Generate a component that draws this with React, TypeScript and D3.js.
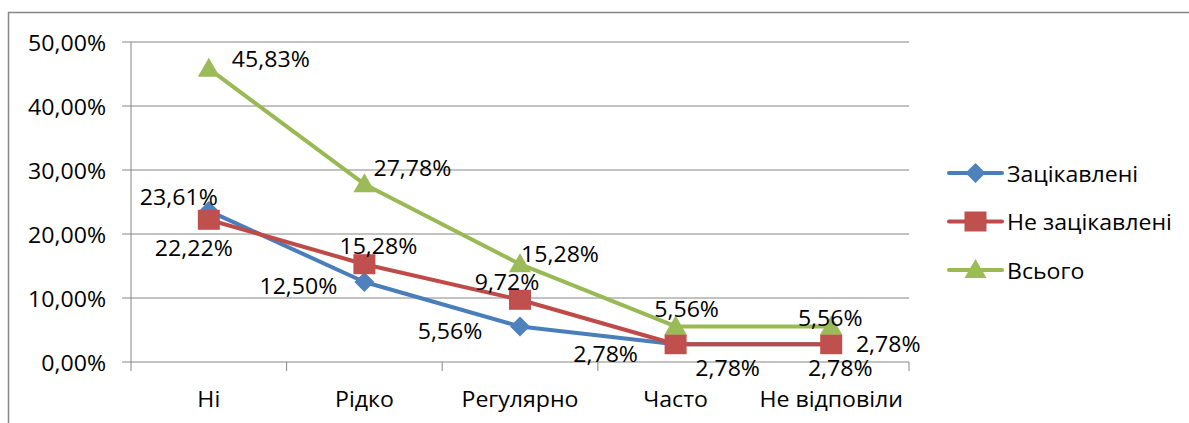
import React from "react";
import * as d3 from "d3";

const categories = ["Ні", "Рідко", "Регулярно", "Часто", "Не відповіли"];
const seriesNames = ["Зацікавлені", "Не зацікавлені", "Всього"];
const interested = [23.61, 12.5, 5.56, 2.78, 2.78];
const notInterested = [22.22, 15.28, 9.72, 2.78, 2.78];
const total = [45.83, 27.78, 15.28, 5.56, 5.56];
const yTicks = [0, 10, 20, 30, 40, 50];

// label offsets (dx, dy) relative to the point
const labelOffsets = [
  [[-30, -14], [-66, 3], [-70, 4], [-70, 9], [57, -1]],
  [[-15, 28], [14, -19], [-13, -18], [52, 23], [9, 23]],
  [[62, -10], [48, -17], [40, -11], [11, -18], [-1, -9]],
];

const lineColors = ["#4A7EBB", "#BE4B48", "#98B954"];
const markerColors = ["#4F81BD", "#C0504D", "#9BBB59"];
const FONT = "'Open Sans', 'Noto Sans', sans-serif";
const SX = 1.1;

const fmt = (v: number) => v.toFixed(2).replace(".", ",") + "%";

function Marker({ kind, x, y, color }: { kind: number; x: number; y: number; color: string }) {
  if (kind === 0) {
    const r = 10;
    return <path d={`M${x},${y - r}L${x + r},${y}L${x},${y + r}L${x - r},${y}Z`} fill={color} />;
  }
  if (kind === 1) {
    return <rect x={x - 11} y={y - 10} width={22} height={20} fill={color} />;
  }
  return <path d={`M${x},${y - 11}L${x + 11},${y + 8}L${x - 11},${y + 8}Z`} fill={color} />;
}

function T({ x, y, anchor, children, size = 21 }: any) {
  return (
    <text
      transform={`translate(${x},${y}) scale(${SX},1)`}
      textAnchor={anchor}
      dominantBaseline="central"
      fontFamily={FONT}
      fontSize={size}
      fill="#000"
    >
      {children}
    </text>
  );
}

export default function App() {
  const W = 1189, H = 423;
  const left = 131, right = 909, top = 42, bottom = 362;
  const x = d3.scaleBand<string>().domain(categories).range([left, right]);
  const y = d3.scaleLinear().domain([0, 50]).range([bottom, top]);
  const cx = (c: string) => (x(c) as number) + x.bandwidth() / 2;
  const series = [interested, notInterested, total];
  const line = d3
    .line<number>()
    .x((_, i) => cx(categories[i]))
    .y((d) => y(d));

  return (
    <svg width={W} height={H} style={{ position: "absolute", left: 0, top: 0, background: "#fff" }}>
      <rect x={8.5} y={12.5} width={1300} height={500} fill="#fff" stroke="#868686" strokeWidth={1.5} />
      {yTicks.map((t) => (
        <g key={t}>
          <line x1={left - 9} x2={right} y1={y(t)} y2={y(t)} stroke="#868686" strokeWidth={1} />
          <T x={106} y={y(t)} anchor="end">{fmt(t)}</T>
        </g>
      ))}
      <line x1={left} x2={left} y1={top} y2={bottom} stroke="#868686" strokeWidth={1} />
      {categories.map((c) => (
        <line key={c} x1={x(c) as number} x2={x(c) as number} y1={bottom} y2={bottom + 9} stroke="#868686" />
      ))}
      <line x1={right} x2={right} y1={bottom} y2={bottom + 9} stroke="#868686" />
      {categories.map((c) => (
        <T key={c} x={cx(c)} y={398} anchor="middle">{c}</T>
      ))}
      {series.map((s, si) => (
        <g key={si}>
          <path d={line(s) || ""} fill="none" stroke={lineColors[si]} strokeWidth={4} strokeLinejoin="round" strokeLinecap="round" />
        </g>
      ))}
      {series.map((s, si) => (
        <g key={"m" + si}>
          {s.map((v, i) => (
            <Marker key={i} kind={si} x={cx(categories[i])} y={y(v)} color={markerColors[si]} />
          ))}
        </g>
      ))}
      {series.map((s, si) => (
        <g key={"l" + si}>
          {s.map((v, i) => (
            <T key={i} x={cx(categories[i]) + labelOffsets[si][i][0]} y={y(v) + labelOffsets[si][i][1]} anchor="middle">
              {fmt(v)}
            </T>
          ))}
        </g>
      ))}
      {seriesNames.map((n, si) => {
        const ly = 173 + si * 48.5;
        return (
          <g key={n}>
            <line x1={949} x2={1002} y1={ly} y2={ly} stroke={lineColors[si]} strokeWidth={4} strokeLinecap="round" />
            <Marker kind={si} x={975.5} y={ly} color={markerColors[si]} />
            <T x={1007} y={ly} anchor="start">{n}</T>
          </g>
        );
      })}
    </svg>
  );
}
